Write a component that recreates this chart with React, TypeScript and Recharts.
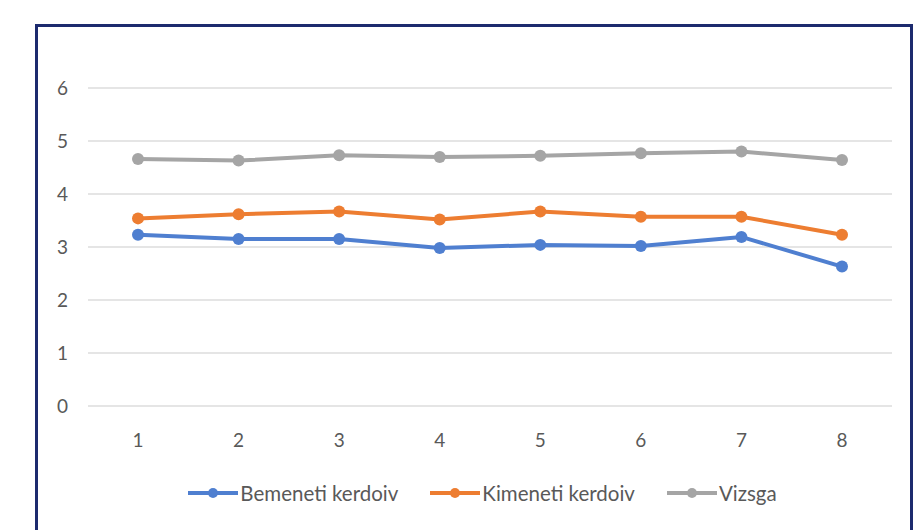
import { LineChart, Line, XAxis, YAxis, CartesianGrid, Legend } from "recharts";

const categories = ["1", "2", "3", "4", "5", "6", "7", "8"];
const bemeneti = [3.23, 3.15, 3.15, 2.98, 3.04, 3.02, 3.19, 2.63];
const kimeneti = [3.54, 3.62, 3.67, 3.52, 3.67, 3.57, 3.57, 3.23];
const vizsga = [4.66, 4.63, 4.73, 4.7, 4.72, 4.77, 4.8, 4.64];
const yTicks = [0, 1, 2, 3, 4, 5, 6];

const series = [
  { key: "bemeneti", name: "Bemeneti kerdoiv", color: "#4f7fd0" },
  { key: "kimeneti", name: "Kimeneti kerdoiv", color: "#ed7d31" },
  { key: "vizsga", name: "Vizsga", color: "#a5a5a5" },
];

const data = categories.map((c, i) => ({
  cat: c,
  bemeneti: bemeneti[i],
  kimeneti: kimeneti[i],
  vizsga: vizsga[i],
}));

const FONT = "Lato, 'Open Sans', sans-serif";
const TEXT = "#595959";

// legenda: vonal + kör, mint az Excelben
function LegendRow() {
  return (
    <div
      style={{
        display: "flex",
        justifyContent: "center",
        alignItems: "center",
        paddingLeft: 80,
        fontFamily: FONT,
        fontSize: 20.5,
        color: TEXT,
      }}
    >
      {series.map((s) => (
        <div key={s.key} style={{ display: "flex", alignItems: "center", marginRight: 32 }}>
          <svg width={50} height={14} style={{ marginRight: 2 }}>
            <line x1={0} y1={7} x2={50} y2={7} stroke={s.color} strokeWidth={4} />
            <circle cx={25} cy={7} r={5} fill={s.color} />
          </svg>
          <span>{s.name}</span>
        </div>
      ))}
    </div>
  );
}

export default function App() {
  return (
    <div style={{ position: "absolute", left: 0, top: 0, width: 917, height: 530, background: "#fff" }}>
      <div
        style={{
          position: "absolute",
          left: 35,
          top: 24,
          width: 878,
          height: 530,
          border: "3px solid #1c2a6e",
          boxSizing: "border-box",
        }}
      />
      <div style={{ position: "absolute", left: 0, top: 0 }}>
        <LineChart width={917} height={530} data={data} margin={{ top: 88, right: 25, bottom: 30, left: 48 }}>
          <CartesianGrid vertical={false} stroke="#dcdcdc" strokeWidth={1.5} />
          <XAxis
            dataKey="cat"
            axisLine={false}
            tickLine={false}
            padding={{ left: 50, right: 50 }}
            tickMargin={22}
            height={70}
            tick={{ fill: TEXT, fontSize: 19, fontFamily: FONT }}
          />
          <YAxis
            domain={[0, 6]}
            ticks={yTicks}
            width={40}
            axisLine={false}
            tickLine={false}
            tickMargin={14}
            tick={{ fill: TEXT, fontSize: 19, fontFamily: FONT }}
          />
          <Legend content={() => <LegendRow />} wrapperStyle={{ top: 481, left: 0, width: 917 }} />
          {series.map((s) => (
            <Line
              key={s.key}
              dataKey={s.key}
              name={s.name}
              stroke={s.color}
              strokeWidth={4}
              dot={{ r: 6, fill: s.color, stroke: s.color, strokeWidth: 0 }}
              isAnimationActive={false}
            />
          ))}
        </LineChart>
      </div>
    </div>
  );
}
